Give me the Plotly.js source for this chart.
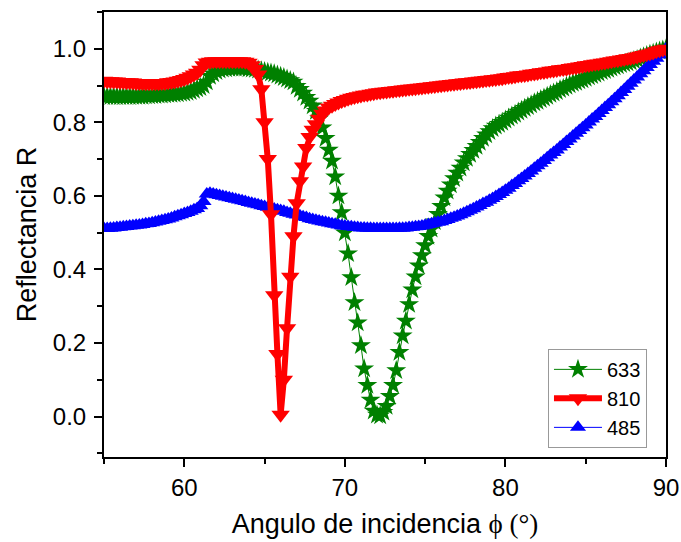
<!DOCTYPE html>
<html>
<head>
<meta charset="utf-8">
<script src="https://cdn.plot.ly/plotly-3.0.1.min.js"></script>
<style>html,body{margin:0;padding:0;background:#fff;} #chart{width:681px;height:542px;}</style>
</head>
<body>
<div id="chart"></div>
<script>
// Incidence angle (degrees)
const angle = [
55.0,55.2,55.4,55.6,55.8, 56.0,56.2,56.4,56.6,56.8, 57.0,57.2,57.4,57.6,57.8, 58.0,58.2,58.4,58.6,58.8,
59.0,59.2,59.4,59.6,59.8, 60.0,60.2,60.4,60.6,60.8, 61.0,61.2,61.4,61.6,61.8, 62.0,62.2,62.4,62.6,62.8,
63.0,63.2,63.4,63.6,63.8, 64.0,64.2,64.4,64.6,64.8, 65.0,65.2,65.4,65.6,65.8, 66.0,66.2,66.4,66.6,66.8,
67.0,67.2,67.4,67.6,67.8, 68.0,68.2,68.4,68.6,68.8, 69.0,69.2,69.4,69.6,69.8, 70.0,70.2,70.4,70.6,70.8,
71.0,71.2,71.4,71.6,71.8, 72.0,72.2,72.4,72.6,72.8, 73.0,73.2,73.4,73.6,73.8, 74.0,74.2,74.4,74.6,74.8,
75.0,75.2,75.4,75.6,75.8, 76.0,76.2,76.4,76.6,76.8, 77.0,77.2,77.4,77.6,77.8, 78.0,78.2,78.4,78.6,78.8,
79.0,79.2,79.4,79.6,79.8, 80.0,80.2,80.4,80.6,80.8, 81.0,81.2,81.4,81.6,81.8, 82.0,82.2,82.4,82.6,82.8,
83.0,83.2,83.4,83.6,83.8, 84.0,84.2,84.4,84.6,84.8, 85.0,85.2,85.4,85.6,85.8, 86.0,86.2,86.4,86.6,86.8,
87.0,87.2,87.4,87.6,87.8, 88.0,88.2,88.4,88.6,88.8, 89.0,89.2,89.4,89.6,89.8, 90.0];

// Reflectance, 633 nm
const r633 = [
0.870,0.870,0.870,0.870,0.870, 0.870,0.870,0.870,0.870,0.871, 0.871,0.871,0.871,0.872,0.872, 0.873,0.873,0.874,0.874,0.875,
0.876,0.876,0.877,0.878,0.879, 0.880,0.882,0.884,0.887,0.891, 0.895,0.900,0.910,0.925,0.932, 0.938,0.942,0.945,0.946,0.947,
0.948,0.948,0.948,0.948,0.948, 0.946,0.945,0.944,0.942,0.940, 0.938,0.936,0.934,0.932,0.929, 0.925,0.922,0.918,0.914,0.910,
0.898,0.890,0.880,0.868,0.858, 0.845,0.830,0.810,0.785,0.757, 0.725,0.695,0.652,0.600,0.555, 0.500,0.443,0.378,0.310,0.255,
0.193,0.130,0.085,0.045,0.015, 0.004,0.002,0.012,0.028,0.055, 0.085,0.125,0.175,0.220,0.260, 0.305,0.345,0.380,0.410,0.438,
0.465,0.490,0.510,0.530,0.550, 0.572,0.595,0.613,0.630,0.647, 0.662,0.676,0.690,0.702,0.713, 0.724,0.735,0.746,0.757,0.766,
0.775,0.783,0.790,0.795,0.800, 0.806,0.812,0.817,0.822,0.828, 0.833,0.838,0.843,0.848,0.853, 0.857,0.862,0.866,0.871,0.876,
0.880,0.884,0.889,0.893,0.898, 0.902,0.906,0.909,0.913,0.916, 0.920,0.924,0.927,0.931,0.934, 0.938,0.941,0.944,0.948,0.951,
0.954,0.957,0.960,0.962,0.965, 0.968,0.971,0.975,0.978,0.982, 0.985,0.988,0.991,0.994,0.997, 1.000];

// Reflectance, 810 nm
const r810 = [
0.913,0.912,0.912,0.911,0.911, 0.910,0.910,0.909,0.909,0.908, 0.907,0.907,0.907,0.906,0.906, 0.906,0.906,0.906,0.907,0.907,
0.909,0.910,0.911,0.913,0.915, 0.918,0.921,0.925,0.930,0.935, 0.943,0.955,0.963,0.965,0.966, 0.966,0.966,0.966,0.966,0.966,
0.966,0.966,0.966,0.966,0.965, 0.962,0.955,0.945,0.930,0.890, 0.800,0.700,0.550,0.330,0.170, 0.005,0.100,0.240,0.380,0.490,
0.580,0.640,0.680,0.730,0.760, 0.780,0.795,0.810,0.823,0.832, 0.840,0.845,0.850,0.854,0.858, 0.861,0.864,0.867,0.869,0.871,
0.873,0.875,0.876,0.878,0.879, 0.881,0.882,0.883,0.884,0.885, 0.886,0.887,0.888,0.889,0.890, 0.891,0.892,0.893,0.894,0.895,
0.896,0.897,0.898,0.899,0.900, 0.901,0.902,0.903,0.904,0.905, 0.906,0.907,0.908,0.909,0.910, 0.911,0.912,0.913,0.914,0.915,
0.916,0.917,0.918,0.919,0.920, 0.922,0.923,0.924,0.925,0.927, 0.928,0.929,0.930,0.932,0.933, 0.934,0.936,0.937,0.938,0.940,
0.941,0.942,0.944,0.945,0.946, 0.948,0.949,0.950,0.952,0.953, 0.955,0.956,0.958,0.959,0.960, 0.962,0.963,0.965,0.966,0.968,
0.969,0.971,0.972,0.974,0.975, 0.977,0.979,0.981,0.983,0.985, 0.987,0.990,0.993,0.996,0.998, 1.000];

// Reflectance, 485 nm
const r485 = [
0.511,0.511,0.512,0.513,0.514, 0.515,0.516,0.517,0.518,0.519, 0.520,0.521,0.522,0.524,0.525, 0.527,0.529,0.531,0.533,0.535,
0.537,0.540,0.543,0.546,0.549, 0.552,0.555,0.558,0.562,0.566, 0.573,0.585,0.605,0.607,0.605, 0.603,0.601,0.599,0.597,0.595,
0.593,0.591,0.589,0.587,0.585, 0.582,0.580,0.578,0.576,0.573, 0.571,0.569,0.567,0.564,0.562, 0.560,0.558,0.555,0.553,0.550,
0.548,0.546,0.543,0.541,0.538, 0.536,0.534,0.532,0.530,0.528, 0.526,0.524,0.523,0.521,0.519, 0.518,0.517,0.516,0.515,0.514,
0.513,0.513,0.512,0.512,0.511, 0.511,0.511,0.511,0.511,0.511, 0.511,0.511,0.512,0.512,0.513, 0.514,0.515,0.516,0.517,0.518,
0.520,0.522,0.524,0.526,0.528, 0.530,0.533,0.536,0.539,0.542, 0.545,0.549,0.553,0.557,0.561, 0.565,0.570,0.574,0.579,0.583,
0.588,0.593,0.598,0.604,0.609, 0.615,0.621,0.628,0.634,0.641, 0.647,0.654,0.661,0.668,0.675, 0.682,0.689,0.696,0.704,0.711,
0.718,0.725,0.733,0.740,0.748, 0.755,0.763,0.770,0.778,0.785, 0.793,0.801,0.809,0.816,0.824, 0.832,0.840,0.848,0.856,0.864,
0.872,0.881,0.889,0.898,0.906, 0.915,0.923,0.932,0.940,0.949, 0.957,0.966,0.974,0.983,0.991, 1.000];

const seriesNames = ['633', '810', '485'];

const traces = [
  {x: angle, y: r633, name: seriesNames[0], type: 'scatter', mode: 'lines+markers',
   line: {color: '#008000', width: 1}, marker: {symbol: 'star', size: 15, color: '#008000'}, legendrank: 1},
  {x: angle, y: r485, name: seriesNames[2], type: 'scatter', mode: 'lines+markers',
   line: {color: '#0000ff', width: 1}, marker: {symbol: 'triangle-up', size: 14, color: '#0000ff'}, legendrank: 3},
  {x: angle, y: r810, name: seriesNames[1], type: 'scatter', mode: 'lines+markers',
   line: {color: '#ff0000', width: 6}, marker: {symbol: 'triangle-down', size: 16, color: '#ff0000'}, legendrank: 2}
];

const font = "Arial, 'Liberation Sans', sans-serif";
const layout = {
  width: 681, height: 542,
  margin: {l: 104, r: 15, t: 12, b: 85},
  paper_bgcolor: '#fff', plot_bgcolor: '#fff',
  font: {family: font, color: '#000', size: 20},
  showlegend: true,
  legend: {x: 0.79, y: 0.243, xanchor: 'left', yanchor: 'top', bgcolor: '#fff',
           bordercolor: '#999', borderwidth: 1, font: {size: 20, family: font},
           itemwidth: 48, tracegroupgap: 0, traceorder: 'normal'},
  xaxis: {
    range: [55, 90], tick0: 50, dtick: 10, ticks: 'outside', ticklen: 8, tickwidth: 2,
    tickcolor: '#000', showline: true, linecolor: '#000', linewidth: 2, mirror: true,
    showgrid: false, zeroline: false, tickfont: {size: 24, family: font},
    minor: {dtick: 5, tick0: 55, ticks: 'outside', ticklen: 5, tickwidth: 2, tickcolor: '#000', showgrid: false},
    title: {text: "Angulo de incidencia <span style=\"font-family:'Liberation Serif'\">ϕ (°)</span>",
            font: {size: 27, family: font}, standoff: 14}
  },
  yaxis: {
    range: [-0.11, 1.1], tick0: 0, dtick: 0.2, tickformat: '.1f', ticks: 'outside', ticklen: 8, tickwidth: 2,
    tickcolor: '#000', showline: true, linecolor: '#000', linewidth: 2, mirror: true,
    showgrid: false, zeroline: false, tickfont: {size: 24, family: font}, ticklabelstandoff: 3,
    minor: {dtick: 0.1, tick0: 0, ticks: 'outside', ticklen: 5, tickwidth: 2, tickcolor: '#000', showgrid: false},
    title: {text: 'Reflectancia R', font: {size: 27, family: font}, standoff: 8}
  }
};

Plotly.newPlot('chart', traces, layout, {displayModeBar: false, staticPlot: true});
</script>
</body>
</html>
